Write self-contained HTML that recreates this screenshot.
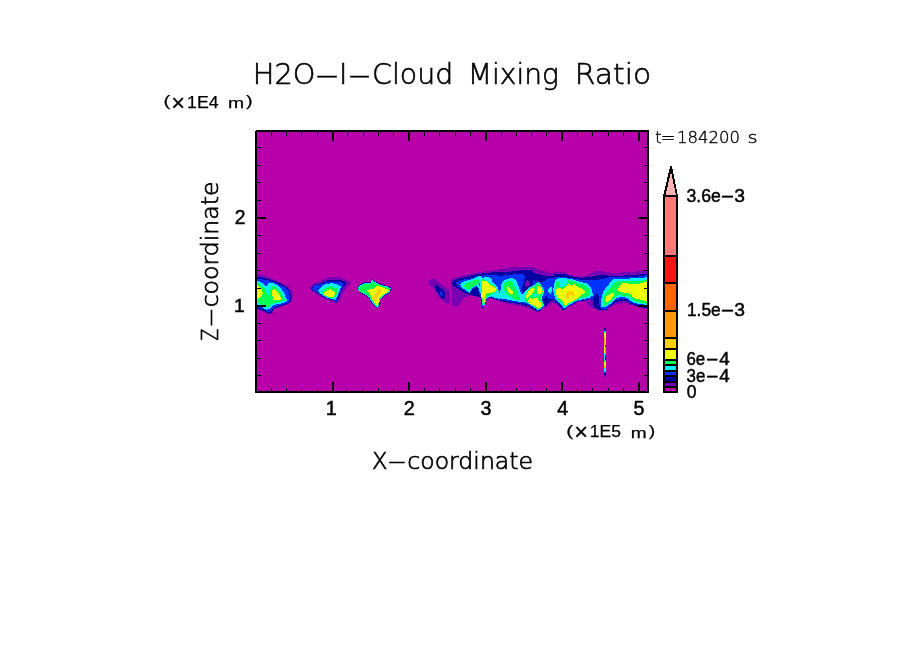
<!DOCTYPE html>
<html lang="en">
<head>
<meta charset="utf-8">
<title>H2O-I-Cloud Mixing Ratio</title>
<style>
html,body{margin:0;padding:0;background:#fff;}
body{width:904px;height:654px;overflow:hidden;}
svg{display:block;}
text{fill:#000;}
.thin{font-family:"DejaVu Sans Light","DejaVu Sans","Liberation Sans",sans-serif;font-weight:200;}
.reg{font-family:"Liberation Sans","DejaVu Sans",sans-serif;font-weight:400;}
.bold{font-family:"Liberation Sans","DejaVu Sans",sans-serif;font-weight:700;}
</style>
</head>
<body>
<svg width="904" height="654" viewBox="0 0 904 654">
<rect x="0" y="0" width="904" height="654" fill="#fff"/>
<!-- plot frame -->
<rect x="255" y="130" width="394" height="263" fill="#000"/>
<rect x="255" y="130" width="1" height="1" fill="#fff"/>
<rect x="257" y="132" width="390" height="259" fill="#b800aa"/>
<g shape-rendering="crispEdges">
<g>
<polygon fill="#7800b4" points="257.1,273.8 262.4,275.1 269.2,277.2 275.9,280.2 282.6,283.1 287.7,286.0 291.0,289.4 292.7,292.8 292.7,298.7 291.5,302.0 287.7,304.6 283.5,306.2 278.4,307.9 274.2,309.6 272.1,313.8 268.3,314.7 264.9,312.6 261.6,311.3 257.1,310.0"/>
<polygon fill="#0000a0" points="257.1,276.8 262.4,277.6 269.2,279.3 275.9,281.4 281.8,284.4 286.8,287.3 289.4,290.3 290.2,293.6 291.5,298.7 290.2,301.6 286.8,303.7 282.6,305.4 277.6,307.1 273.8,308.8 271.7,312.6 268.3,313.4 264.9,311.3 261.6,310.0 257.1,308.8"/>
<polygon fill="#0032ff" points="257.1,278.9 262.4,279.3 269.2,280.6 275.0,282.3 280.9,285.2 286.0,288.1 288.5,291.1 289.4,295.3 290.2,299.5 287.7,302.5 283.5,304.1 278.4,305.8 273.8,307.5 271.3,311.3 267.9,312.1 264.9,310.0 261.6,308.8 257.1,307.1"/>
<polygon fill="#00f0ff" points="257.1,281.0 259.9,281.8 263.3,283.9 266.6,286.5 268.7,283.1 273.8,283.1 278.4,286.0 281.8,289.4 283.9,292.8 285.6,297.4 287.2,299.9 285.1,302.0 281.8,303.3 277.6,304.1 273.4,305.4 270.0,308.8 266.6,309.6 263.3,307.9 259.9,306.2 257.1,305.4"/>
<polygon fill="#00ff50" points="257.1,282.3 260.7,285.2 264.1,287.7 266.6,291.9 267.5,294.5 269.6,294.5 270.4,289.4 271.7,286.0 275.0,286.5 278.4,289.4 280.9,292.8 283.0,297.0 285.6,299.9 283.5,301.2 279.3,302.0 275.0,302.9 271.3,304.1 268.7,306.7 265.8,307.1 262.4,304.6 259.1,303.3 257.1,303.7"/>
<polygon fill="#f0ff00" points="257.1,285.2 259.9,286.9 262.0,289.4 262.8,292.8 262.0,295.3 259.9,297.4 257.1,299.1"/>
<polygon fill="#f0ff00" points="272.9,289.0 275.0,289.4 277.6,291.9 279.7,295.3 280.9,297.8 280.9,299.5 273.4,299.9 272.1,294.5 272.1,290.3"/>
</g>
<g>
<polygon fill="#7800b4" points="310.1,287.7 313.4,283.3 320.6,281.1 327.8,277.7 332.8,276.6 341.1,277.7 345.5,279.4 349.9,281.1 349.4,285.5 346.0,288.8 342.7,293.8 340.5,299.3 337.7,303.7 335.0,303.0 329.4,300.8 323.9,298.5 317.8,295.2 312.3,291.6"/>
<polygon fill="#0000a0" points="311.2,288.3 314.5,284.9 320.6,283.3 328.3,280.0 340.5,280.0 345.5,281.6 346.6,284.4 343.3,287.7 340.5,293.2 338.3,298.8 336.6,302.1 333.9,301.0 328.9,299.0 323.9,297.1 318.4,293.8 313.4,290.8"/>
<polygon fill="#0032ff" points="311.7,288.3 315.1,285.5 320.6,284.4 327.8,281.6 339.4,281.6 343.3,283.3 342.7,286.6 340.0,292.1 337.7,297.7 336.1,301.5 333.3,299.9 328.9,298.5 323.9,296.5 318.4,293.2 314.0,290.5"/>
<polygon fill="#00f0ff" points="318.4,290.5 321.7,286.6 326.1,283.8 332.8,283.3 338.3,284.9 341.1,286.6 339.4,291.0 337.2,296.5 335.0,299.9 331.7,299.0 327.2,297.7 322.3,294.9 318.9,292.7"/>
<polygon fill="#00ff50" points="322.3,292.1 324.5,288.8 329.4,286.0 333.3,287.7 336.6,288.3 338.3,290.5 336.1,296.0 333.3,298.2 328.9,297.4 324.5,295.7 322.8,293.8"/>
<polygon fill="#f0ff00" points="323.9,292.7 326.7,290.5 330.0,288.8 332.2,291.0 334.4,291.6 335.0,293.8 333.3,297.1 329.4,297.1 325.6,295.7 323.9,294.3"/>
<polygon fill="#0000a0" points="356.9,288.3 359.1,285.3 363.7,282.5 370.4,281.9 372.6,279.2 375.0,281.4 381.4,284.2 389.4,286.4 391.6,288.3 390.0,292.9 385.0,295.7 380.5,299.5 379.4,305.6 377.6,308.9 375.1,306.7 371.3,302.3 368.5,297.9 364.6,295.1 359.1,292.3"/>
<polygon fill="#00f0ff" points="357.8,288.3 359.9,285.7 364.1,283.3 370.4,282.7 372.6,280.3 374.8,282.2 381.4,284.9 389.0,287.1 390.8,288.6 389.4,292.5 384.5,295.0 380.1,299.0 379.0,305.2 377.5,307.8 375.5,306.1 371.7,301.6 368.9,297.3 365.1,294.3 359.5,291.9"/>
<polygon fill="#00ff50" points="358.4,288.3 360.4,286.3 364.3,284.0 370.4,283.5 372.6,281.3 374.8,282.9 381.4,285.7 388.6,287.9 390.1,288.9 388.8,292.0 384.2,294.4 379.8,298.4 378.7,304.6 377.3,306.8 375.8,305.3 372.1,301.0 369.4,296.8 365.5,293.8 360.0,291.5"/>
<polygon fill="#f0ff00" points="367.1,290.5 370.4,288.8 373.7,289.4 375.9,286.0 380.3,286.6 384.8,288.3 389.2,289.9 388.1,292.1 383.6,294.1 379.2,298.2 378.3,304.3 377.2,306.0 375.9,304.3 372.6,300.4 370.9,296.0 369.3,292.7"/>
<polygon fill="#ffd000" points="377.0,288.8 380.3,288.3 381.4,291.0 380.3,293.8 377.6,297.1 376.5,300.4 374.8,301.0 373.1,298.8 374.2,294.9 376.5,292.1"/>
</g>
<clipPath id="w2"><rect x="420" y="132" width="31" height="259"/></clipPath>
<g clip-path="url(#w2)">
<polygon fill="#7800b4" points="428.3,281.9 430.5,279.1 435.5,279.1 439.4,283.0 444.9,286.9 448.8,290.8 450.4,296.3 449.9,302.9 446.5,303.5 442.1,300.7 437.7,295.2 433.3,289.1 429.4,284.7"/>
<polygon fill="#0000a0" points="434.9,285.8 436.6,284.7 441.0,288.0 444.3,291.3 445.4,295.7 443.8,299.1 441.0,297.4 438.3,293.5 436.0,289.7"/>
<polygon fill="#0032ff" points="439.9,292.4 441.6,290.8 443.2,294.1 442.1,295.7 440.5,295.2"/>
</g>
<clipPath id="w3"><rect x="450.5" y="132" width="49.5" height="259"/></clipPath>
<g clip-path="url(#w3)">
<polygon fill="#7800b4" points="450.5,289.4 450.5,282.2 452.3,278.7 457.8,276.9 464.6,275.1 471.5,273.7 475.7,272.9 481.2,272.1 486.7,271.2 492.2,270.3 496.3,269.8 501.1,268.9 504.0,268.8 505.9,268.8 505.9,302.8 504.0,302.8 499.1,301.1 493.6,299.7 490.8,298.3 488.0,299.0 486.0,301.8 485.3,304.5 483.9,307.3 482.5,309.4 481.5,307.3 480.8,303.2 480.1,298.3 478.4,297.3 476.3,296.6 472.9,296.3 468.8,295.6 464.6,297.3 461.9,300.4 458.8,305.6 452.3,305.6 452.3,292.2"/>
<polygon fill="#0000a0" points="451.9,282.9 454.0,280.1 459.1,278.3 467.4,276.5 474.3,274.8 476.3,274.1 482.5,273.4 488.0,272.9 492.2,272.3 496.3,272.1 504.0,271.8 505.9,271.8 505.9,302.1 504.0,302.1 499.1,300.4 493.6,299.0 490.8,297.7 488.0,298.3 485.8,301.1 485.2,303.9 483.9,306.6 482.7,308.7 481.9,306.9 481.2,303.2 480.5,298.0 478.4,296.6 474.3,295.7 471.5,295.2 467.4,294.2 463.3,292.2 457.8,288.7 453.6,286.0"/>
<polygon fill="#0032ff" points="455.7,283.2 457.8,281.3 464.0,279.4 471.5,278.3 474.3,277.4 476.3,276.3 478.4,276.0 482.5,275.6 486.7,275.1 492.2,274.6 497.0,274.6 499.7,276.3 504.0,277.4 505.9,277.4 505.9,301.1 504.0,301.1 499.1,299.7 493.6,298.3 490.8,297.1 488.0,297.7 485.6,300.4 484.9,303.5 483.8,305.9 482.9,307.6 482.2,306.3 481.6,302.5 481.0,297.7 479.8,295.6 478.4,292.2 477.7,288.7 476.3,287.3 474.3,288.0 472.2,289.7 470.5,292.5 469.5,293.2 466.7,291.8 461.9,289.1 457.8,286.1"/>
<polygon fill="#00f0ff" points="460.2,284.2 462.0,282.4 466.7,280.5 472.9,279.2 476.0,277.4 478.1,276.9 479.0,276.0 480.8,276.3 481.7,277.8 486.7,277.0 490.8,277.8 492.0,279.8 492.2,282.2 494.9,284.2 497.3,286.6 498.4,289.4 499.1,292.8 501.1,294.2 504.0,294.9 505.9,294.9 505.9,300.4 504.0,300.4 499.1,298.9 493.6,297.3 491.5,296.3 488.7,297.0 486.3,299.7 485.3,303.2 484.3,305.2 483.1,306.9 482.4,305.2 481.9,301.8 481.3,297.0 480.8,293.5 479.8,291.5 478.8,288.7 477.7,286.6 476.3,286.3 474.3,286.6 472.2,288.4 470.5,291.1 469.5,292.5 467.4,291.1 464.0,289.1 461.2,286.6"/>
<polygon fill="#00f0ff" points="501.8,280.8 504.0,280.5 505.9,280.5 505.9,289.4 504.0,289.1 501.8,288.7 501.1,285.3"/>
<polygon fill="#0032ff" points="478.8,283.5 479.8,283.2 479.9,285.6 479.0,286.0"/>
<polygon fill="#00ff50" points="464.0,285.3 465.3,283.5 468.8,282.2 473.6,280.8 476.3,279.1 478.4,279.4 478.8,282.5 477.7,284.6 475.0,285.3 472.9,286.6 471.2,288.7 469.5,289.7 466.7,289.1 464.6,287.3"/>
<polygon fill="#00ff50" points="481.5,279.8 482.5,279.4 486.7,280.8 490.8,283.9 494.9,286.6 497.0,289.1 496.3,291.5 493.6,293.2 490.1,294.9 488.0,296.3 486.3,298.3 485.3,301.8 484.3,304.2 483.2,305.6 482.5,303.2 481.9,299.0 481.2,294.9 481.5,289.4 481.7,283.9"/>
<polygon fill="#f0ff00" points="482.2,280.5 485.3,280.5 488.7,283.2 492.2,286.0 495.6,288.0 496.6,289.4 495.6,291.1 492.2,292.5 488.0,293.2 486.7,293.5 486.0,296.3 484.6,298.3 484.9,301.1 483.9,303.5 483.2,301.8 482.9,298.3 481.5,297.0 481.2,294.9 481.9,289.4 482.2,283.9"/>
<polygon fill="#f0ff00" points="480.8,278.0 482.2,278.0 482.2,279.2 480.8,279.2"/>
<polygon fill="#ffd000" points="489.1,286.0 489.9,286.0 489.9,287.7 489.1,287.7"/>
<polygon fill="#ffd000" points="485.2,293.2 485.8,293.2 485.8,296.3 485.2,296.3"/>
<polygon fill="#00ff50" points="503.2,284.6 505.9,284.2 505.9,286.3 503.2,286.1"/>
</g>
<clipPath id="w4"><rect x="500" y="132" width="54" height="259"/></clipPath>
<g clip-path="url(#w4)">
<polygon fill="#7800b4" points="494.3,270.4 496.0,270.0 501.1,269.2 506.1,267.9 512.8,267.1 521.3,266.6 529.7,266.6 534.7,267.2 537.2,269.2 541.5,270.4 546.5,272.1 549.9,273.4 553.2,272.5 556.0,271.9 558.3,271.9 558.3,302.4 556.0,302.2 553.2,302.4 550.7,304.1 547.3,306.2 544.0,307.9 541.0,310.8 538.1,312.5 535.6,311.2 529.7,309.1 521.3,306.6 512.8,304.9 504.4,303.2 496.0,301.1 494.3,300.7"/>
<polygon fill="#0000a0" points="494.3,272.3 496.0,272.1 504.4,272.5 512.8,271.3 519.6,270.4 525.5,270.0 531.4,270.4 533.9,272.8 538.1,274.0 543.1,275.2 548.2,276.1 556.0,276.1 558.3,276.1 558.3,299.0 556.0,299.0 552.4,299.9 549.0,302.4 546.5,304.9 543.1,307.0 539.8,310.4 537.2,311.7 533.0,309.1 528.0,306.2 521.3,304.5 512.8,303.2 504.4,301.6 496.0,299.9 494.3,299.5"/>
<polygon fill="#7800b4" points="525.0,282.2 527.6,280.1 530.1,282.2 529.2,285.1 526.7,287.3 525.3,285.6"/>
<polygon fill="#0032ff" points="494.3,274.6 496.0,274.6 499.4,277.0 504.4,275.5 512.8,274.5 520.4,274.0 524.2,274.6 525.0,277.2 524.2,280.5 522.8,284.7 522.1,288.9 522.9,292.3 524.2,294.0 526.3,290.6 529.7,287.3 533.0,284.3 534.0,278.8 535.6,281.8 537.2,280.1 538.5,282.2 541.5,282.6 543.1,281.8 546.5,278.8 550.7,277.6 556.0,277.6 558.3,277.6 558.3,299.0 553.2,299.0 549.9,299.5 547.3,297.4 546.1,295.2 544.8,297.4 543.1,299.0 542.3,300.7 543.6,303.2 544.8,305.8 541.5,309.1 537.7,311.0 534.7,308.7 529.7,305.8 525.5,303.7 521.3,303.2 512.8,302.0 504.4,300.3 496.0,298.6 494.3,298.2"/>
<polygon fill="#00f0ff" points="494.3,295.7 496.0,295.2 498.5,293.1 500.6,289.8 501.1,284.7 502.7,281.4 506.1,279.3 511.2,278.0 514.5,278.8 516.6,281.4 518.3,285.6 520.0,290.6 521.3,293.6 522.9,294.4 525.0,291.5 528.0,288.5 531.4,286.0 534.7,284.7 537.2,282.6 538.9,282.2 540.2,283.9 542.1,286.4 543.6,288.9 544.1,292.3 542.7,295.7 541.5,298.2 542.7,301.6 544.0,305.4 541.0,308.3 537.7,310.1 535.1,307.9 530.5,304.9 526.3,302.4 521.3,302.0 512.8,300.7 504.4,299.0 496.0,297.8 494.3,297.4"/>
<polygon fill="#00f0ff" points="548.2,289.8 550.7,286.4 552.2,287.3 552.0,290.6 550.7,293.6 548.6,293.1"/>
<polygon fill="#00f0ff" points="554.1,282.2 556.0,280.1 558.3,280.1 558.3,298.6 556.0,298.6 554.5,295.7 553.2,291.5 553.7,286.4"/>
<polygon fill="#00ff50" points="503.2,285.6 504.4,282.6 507.8,280.9 512.0,281.8 514.1,284.7 516.2,288.9 518.1,294.0 520.0,298.2 518.7,300.3 515.4,299.5 511.2,297.4 506.9,294.8 504.4,290.6"/>
<polygon fill="#00ff50" points="524.2,298.6 525.5,294.8 527.6,290.6 530.5,287.7 533.9,286.4 537.2,283.9 538.9,283.5 541.0,286.0 542.7,288.9 543.3,292.3 541.9,295.7 540.6,298.2 541.9,301.6 543.1,304.9 540.6,307.9 537.7,309.6 535.1,307.5 531.4,304.5 528.0,302.4 525.5,301.1"/>
<polygon fill="#00ff50" points="554.9,291.5 556.0,290.6 558.3,290.6 558.3,297.4 556.0,297.4 555.3,295.7"/>
<polygon fill="#f0ff00" points="506.9,288.1 508.2,286.8 510.7,288.9 512.8,291.5 513.3,293.6 510.7,294.0 508.6,292.3 506.9,290.2"/>
<polygon fill="#f0ff00" points="525.9,297.4 526.7,294.0 528.8,290.6 531.4,288.5 533.9,288.1 534.9,289.4 533.5,292.3 531.4,294.8 529.2,296.5 527.6,298.6"/>
<polygon fill="#f0ff00" points="537.1,288.1 538.1,286.4 540.2,286.8 542.1,288.9 542.7,291.9 541.0,294.0 538.9,294.8 537.4,293.1 536.8,290.6"/>
<polygon fill="#f0ff00" points="528.0,300.3 529.7,298.2 533.0,299.0 536.0,297.8 537.7,297.4 538.5,299.9 541.0,302.4 542.3,304.5 540.2,307.5 537.7,308.7 535.6,306.2 532.2,304.5 529.2,303.2 528.0,302.0"/>
<polygon fill="#00f0ff" points="533.0,294.4 535.6,293.1 537.2,294.8 536.0,297.4 533.9,296.9"/>
</g>
<clipPath id="w5"><rect x="554" y="132" width="54" height="259"/></clipPath>
<g clip-path="url(#w5)">
<polygon fill="#7800b4" points="548.3,272.9 550.0,272.9 554.2,272.1 560.1,271.9 565.2,272.5 569.4,274.6 575.3,275.9 581.1,276.5 586.2,275.5 590.4,273.8 593.8,271.7 597.1,270.8 602.2,271.3 607.2,272.5 610.0,272.5 612.3,272.5 612.3,310.0 610.0,310.0 604.7,311.2 600.5,311.2 597.1,310.0 593.8,308.7 590.4,306.6 587.9,304.1 585.4,302.4 582.0,301.6 577.8,302.4 573.6,304.5 568.5,307.5 564.7,310.0 562.6,311.7 561.4,309.1 558.4,305.8 554.2,303.7 550.0,305.8 548.3,305.8"/>
<polygon fill="#0000a0" points="548.3,275.5 550.0,275.5 553.4,274.6 556.7,274.0 565.2,274.2 569.4,275.6 575.3,277.2 581.1,277.8 587.0,277.3 592.1,276.5 597.1,275.5 602.2,274.6 607.2,274.6 612.3,274.6 612.3,309.1 610.0,309.1 604.7,310.4 600.5,310.4 597.1,309.1 593.8,307.0 592.9,303.2 592.5,300.3 589.6,299.0 586.2,300.3 582.0,300.7 577.8,301.6 573.6,303.7 568.5,306.6 565.2,309.1 563.0,310.4 561.8,308.3 558.4,304.5 554.2,301.6 550.0,301.6 548.3,301.6"/>
<polygon fill="#0032ff" points="548.3,278.0 550.0,278.0 554.2,278.4 555.9,277.2 559.3,276.5 565.2,276.7 569.4,277.8 575.3,279.0 581.1,279.7 587.0,279.5 592.1,279.8 597.1,280.4 602.2,278.8 607.2,277.8 612.3,277.6 612.3,307.9 610.0,307.9 607.2,309.1 603.9,309.6 600.5,307.9 599.2,304.1 598.8,297.4 597.6,293.6 595.9,293.6 593.8,297.4 592.5,299.9 589.6,298.6 586.2,299.7 582.0,300.3 577.8,300.9 573.6,303.1 568.5,305.9 565.2,308.3 563.3,309.1 562.2,307.0 558.8,303.7 554.6,300.3 550.0,298.2 548.3,298.2"/>
<polygon fill="#00f0ff" points="553.8,290.6 554.2,283.9 555.1,280.1 558.4,278.0 565.2,278.2 569.4,278.8 575.3,280.1 581.1,282.2 587.0,283.2 590.0,286.0 592.1,290.6 592.9,295.2 590.4,297.4 587.0,298.2 582.0,299.5 577.8,300.3 573.6,302.4 568.5,305.4 565.6,307.5 563.5,308.1 562.5,306.2 559.3,302.8 555.9,299.9 554.2,295.7"/>
<polygon fill="#00f0ff" points="548.3,286.4 550.0,286.4 552.1,287.3 552.5,290.6 551.3,293.6 550.0,294.0 548.3,294.0"/>
<polygon fill="#00f0ff" points="600.5,305.8 601.3,299.0 603.0,291.5 606.4,287.3 610.0,283.9 612.3,283.0 612.3,304.1 610.0,304.1 608.1,305.8 604.7,307.0 601.8,307.0"/>
<polygon fill="#00ff50" points="555.5,290.6 556.3,282.2 558.4,280.9 559.7,283.0 560.1,286.8 563.5,287.3 566.4,283.9 568.1,279.7 571.0,280.9 575.3,281.5 579.5,283.5 584.5,285.1 587.9,287.3 589.6,290.6 590.4,294.4 587.0,296.5 582.0,298.2 577.8,299.0 573.6,301.1 568.5,304.1 565.6,306.2 563.9,306.2 562.6,303.2 559.3,301.1 556.7,298.2"/>
<polygon fill="#00ff50" points="602.6,304.9 603.0,299.9 604.7,294.8 607.2,291.5 610.0,288.9 612.3,288.1 612.3,301.6 610.0,302.4 607.2,304.1 604.7,305.8"/>
<polygon fill="#f0ff00" points="555.7,293.1 556.1,289.8 557.2,287.3 559.3,288.1 562.6,288.9 565.6,287.3 568.1,284.3 569.8,283.9 571.5,286.0 574.4,284.3 577.8,287.3 581.1,288.1 584.5,290.6 584.9,292.7 582.4,294.4 579.0,297.4 575.3,299.5 571.0,302.0 566.8,304.5 564.3,304.9 563.0,301.6 560.1,299.0 557.2,297.4"/>
<polygon fill="#f0ff00" points="605.1,300.7 606.0,296.5 608.1,294.0 612.3,292.3 612.3,299.9 610.0,301.6 607.2,302.0"/>
<polygon fill="#ffd000" points="566.4,293.6 568.1,291.5 571.0,291.0 574.0,292.7 574.8,296.5 572.7,296.1 570.6,295.2 568.9,296.5 568.7,298.6 566.4,298.6"/>
</g>
<clipPath id="w6"><rect x="608" y="132" width="39" height="259"/></clipPath>
<g clip-path="url(#w6)">
<polygon fill="#7800b4" points="598.3,271.1 600.0,271.1 605.1,272.1 612.6,272.8 621.0,272.5 629.5,272.1 637.9,271.3 643.8,270.4 647.1,270.2 650.5,270.2 650.5,309.6 647.1,309.6 643.8,308.7 637.9,307.0 633.7,305.8 629.5,304.5 625.3,303.2 619.4,303.7 614.3,304.9 610.1,307.5 606.7,310.0 603.4,311.2 600.0,310.8 598.3,310.8"/>
<polygon fill="#0000a0" points="598.3,274.6 600.0,274.6 605.1,275.3 612.6,275.9 621.0,275.6 629.5,275.3 637.9,274.6 643.8,273.8 647.1,273.6 650.5,273.6 650.5,308.3 647.1,308.3 643.8,307.9 637.9,306.6 633.7,304.9 629.5,303.2 626.9,301.1 623.6,300.3 619.4,301.1 615.2,302.4 610.9,305.8 606.7,308.7 603.4,310.1 600.0,309.6 598.3,309.6"/>
<polygon fill="#0032ff" points="598.3,276.7 600.0,276.7 605.1,278.0 608.4,277.6 612.6,277.2 621.0,277.0 629.5,276.8 637.9,276.5 643.8,275.5 647.1,275.3 650.5,275.3 650.5,307.0 647.1,307.0 643.8,306.2 637.9,305.4 633.7,303.7 629.5,302.0 626.9,299.5 623.6,299.0 619.4,299.5 615.6,300.3 611.8,304.1 607.6,307.5 604.2,308.7 600.0,307.9 598.3,307.9"/>
<polygon fill="#00f0ff" points="598.3,305.8 600.0,304.1 601.3,299.9 603.4,291.5 606.7,287.3 610.1,282.2 612.6,279.7 615.2,278.8 621.0,278.7 629.5,278.5 637.9,278.4 643.8,277.6 647.1,277.4 650.5,277.4 650.5,305.4 647.1,305.4 643.8,304.5 637.9,303.7 633.7,302.4 630.3,300.7 627.8,297.8 623.6,297.4 619.4,297.4 616.0,298.2 612.6,302.0 608.4,305.4 605.1,307.0 600.0,307.0 598.3,307.0"/>
<polygon fill="#00ff50" points="598.3,304.1 600.0,303.7 602.5,299.0 603.8,294.4 607.6,290.6 610.9,287.3 613.5,283.9 616.0,281.8 621.0,280.9 629.5,281.2 637.9,281.2 643.8,280.1 647.1,279.7 650.5,279.7 650.5,304.1 647.1,304.1 643.8,303.2 637.9,302.2 633.7,300.7 630.7,298.2 628.2,296.1 623.6,295.7 618.5,295.2 615.6,296.5 612.6,299.9 608.4,303.2 605.1,304.9 601.7,305.4"/>
<polygon fill="#f0ff00" points="605.1,301.6 605.5,297.8 607.6,295.2 610.9,293.6 613.9,293.1 613.9,295.2 611.8,298.2 609.3,301.1 606.7,302.0"/>
<polygon fill="#f0ff00" points="617.3,289.8 619.4,286.4 622.3,283.5 627.8,283.2 629.5,284.1 637.9,284.1 643.8,282.2 647.1,281.8 650.5,281.8 650.5,301.6 647.1,301.6 643.8,300.3 639.6,299.5 635.4,298.6 632.8,296.9 631.1,294.8 628.6,293.1 624.4,292.7 620.2,291.9 617.7,291.0"/>
</g>
<g>
<polygon fill="#0000a0" points="603.8,327.5 606.3,327.5 606.3,330.7 603.8,330.7"/>
<polygon fill="#00f0ff" points="603.8,330.7 606.3,330.7 606.3,331.9 603.8,331.9"/>
<polygon fill="#00ff50" points="603.8,331.9 606.3,331.9 606.3,333.0 603.8,333.0"/>
<polygon fill="#f0ff00" points="603.8,333.0 606.3,333.0 606.3,338.1 603.8,338.1"/>
<polygon fill="#ff9b00" points="603.8,338.1 605.2,338.1 605.2,345.9 603.8,345.9"/>
<polygon fill="#f0ff00" points="605.2,338.1 606.3,338.1 606.3,345.4 605.2,345.4"/>
<polygon fill="#0032ff" points="605.0,345.4 606.3,345.4 606.3,347.0 605.0,347.0"/>
<polygon fill="#f0ff00" points="603.8,345.9 605.0,345.9 605.0,353.2 603.8,353.2"/>
<polygon fill="#00ff50" points="605.0,347.0 606.3,347.0 606.3,353.2 605.0,353.2"/>
<polygon fill="#00f0ff" points="603.8,353.2 606.3,353.2 606.3,355.2 603.8,355.2"/>
<polygon fill="#00f0ff" points="603.8,355.2 605.0,355.2 605.0,359.6 603.8,359.6"/>
<polygon fill="#0000a0" points="605.0,355.2 606.3,355.2 606.3,359.6 605.0,359.6"/>
<polygon fill="#00ff50" points="603.8,359.6 606.3,359.6 606.3,362.4 603.8,362.4"/>
<polygon fill="#f0ff00" points="603.8,362.4 606.3,362.4 606.3,365.1 603.8,365.1"/>
<polygon fill="#ffd000" points="603.8,365.1 606.3,365.1 606.3,367.9 603.8,367.9"/>
<polygon fill="#00f0ff" points="603.8,367.9 606.3,367.9 606.3,371.5 603.8,371.5"/>
<polygon fill="#0032ff" points="603.8,371.5 606.3,371.5 606.3,373.2 603.8,373.2"/>
<polygon fill="#0000a0" points="603.8,373.2 606.3,373.2 606.3,375.0 603.8,375.0"/>
<polygon fill="#7800b4" points="603.8,375.0 606.3,375.0 606.3,376.6 603.8,376.6"/>
</g>
</g>
<g shape-rendering="crispEdges">
<rect x="584" y="379" width="1" height="1" fill="#6a00b8"/>
<rect x="271" y="388" width="1" height="3" fill="#000"/>
<rect x="271" y="132" width="1" height="4" fill="#000"/>
<rect x="286" y="388" width="1" height="3" fill="#000"/>
<rect x="286" y="132" width="1" height="4" fill="#000"/>
<rect x="301" y="388" width="1" height="3" fill="#000"/>
<rect x="301" y="132" width="1" height="4" fill="#000"/>
<rect x="317" y="388" width="1" height="3" fill="#000"/>
<rect x="317" y="132" width="1" height="4" fill="#000"/>
<rect x="332" y="382" width="2" height="9" fill="#000"/>
<rect x="332" y="132" width="2" height="9" fill="#000"/>
<rect x="347" y="388" width="1" height="3" fill="#000"/>
<rect x="347" y="132" width="1" height="4" fill="#000"/>
<rect x="363" y="388" width="1" height="3" fill="#000"/>
<rect x="363" y="132" width="1" height="4" fill="#000"/>
<rect x="378" y="388" width="1" height="3" fill="#000"/>
<rect x="378" y="132" width="1" height="4" fill="#000"/>
<rect x="393" y="388" width="1" height="3" fill="#000"/>
<rect x="393" y="132" width="1" height="4" fill="#000"/>
<rect x="408" y="382" width="2" height="9" fill="#000"/>
<rect x="408" y="132" width="2" height="9" fill="#000"/>
<rect x="424" y="388" width="1" height="3" fill="#000"/>
<rect x="424" y="132" width="1" height="4" fill="#000"/>
<rect x="439" y="388" width="1" height="3" fill="#000"/>
<rect x="439" y="132" width="1" height="4" fill="#000"/>
<rect x="455" y="388" width="1" height="3" fill="#000"/>
<rect x="455" y="132" width="1" height="4" fill="#000"/>
<rect x="470" y="388" width="1" height="3" fill="#000"/>
<rect x="470" y="132" width="1" height="4" fill="#000"/>
<rect x="485" y="382" width="2" height="9" fill="#000"/>
<rect x="485" y="132" width="2" height="9" fill="#000"/>
<rect x="501" y="388" width="1" height="3" fill="#000"/>
<rect x="501" y="132" width="1" height="4" fill="#000"/>
<rect x="516" y="388" width="1" height="3" fill="#000"/>
<rect x="516" y="132" width="1" height="4" fill="#000"/>
<rect x="531" y="388" width="1" height="3" fill="#000"/>
<rect x="531" y="132" width="1" height="4" fill="#000"/>
<rect x="546" y="388" width="1" height="3" fill="#000"/>
<rect x="546" y="132" width="1" height="4" fill="#000"/>
<rect x="561" y="382" width="2" height="9" fill="#000"/>
<rect x="561" y="132" width="2" height="9" fill="#000"/>
<rect x="577" y="388" width="1" height="3" fill="#000"/>
<rect x="577" y="132" width="1" height="4" fill="#000"/>
<rect x="592" y="388" width="1" height="3" fill="#000"/>
<rect x="592" y="132" width="1" height="4" fill="#000"/>
<rect x="608" y="388" width="1" height="3" fill="#000"/>
<rect x="608" y="132" width="1" height="4" fill="#000"/>
<rect x="623" y="388" width="1" height="3" fill="#000"/>
<rect x="623" y="132" width="1" height="4" fill="#000"/>
<rect x="638" y="382" width="2" height="9" fill="#000"/>
<rect x="638" y="132" width="2" height="9" fill="#000"/>
<rect x="257" y="375" width="4" height="1" fill="#000"/>
<rect x="644" y="375" width="3" height="1" fill="#000"/>
<rect x="257" y="358" width="4" height="1" fill="#000"/>
<rect x="644" y="358" width="3" height="1" fill="#000"/>
<rect x="257" y="340" width="4" height="1" fill="#000"/>
<rect x="644" y="340" width="3" height="1" fill="#000"/>
<rect x="257" y="323" width="4" height="1" fill="#000"/>
<rect x="644" y="323" width="3" height="1" fill="#000"/>
<rect x="257" y="305" width="9" height="2" fill="#000"/>
<rect x="638" y="305" width="9" height="2" fill="#000"/>
<rect x="257" y="288" width="4" height="1" fill="#000"/>
<rect x="644" y="288" width="3" height="1" fill="#000"/>
<rect x="257" y="270" width="4" height="1" fill="#000"/>
<rect x="644" y="270" width="3" height="1" fill="#000"/>
<rect x="257" y="253" width="4" height="1" fill="#000"/>
<rect x="644" y="253" width="3" height="1" fill="#000"/>
<rect x="257" y="235" width="4" height="1" fill="#000"/>
<rect x="644" y="235" width="3" height="1" fill="#000"/>
<rect x="257" y="217" width="9" height="2" fill="#000"/>
<rect x="638" y="217" width="9" height="2" fill="#000"/>
<rect x="257" y="200" width="4" height="1" fill="#000"/>
<rect x="644" y="200" width="3" height="1" fill="#000"/>
<rect x="257" y="182" width="4" height="1" fill="#000"/>
<rect x="644" y="182" width="3" height="1" fill="#000"/>
<rect x="257" y="165" width="4" height="1" fill="#000"/>
<rect x="644" y="165" width="3" height="1" fill="#000"/>
<rect x="257" y="147" width="4" height="1" fill="#000"/>
<rect x="644" y="147" width="3" height="1" fill="#000"/>
</g>
<g shape-rendering="crispEdges">
<rect x="663" y="195" width="15" height="198" fill="#000"/>
<rect x="665" y="388" width="11" height="3" fill="#b800aa"/>
<rect x="665" y="383" width="11" height="3" fill="#7800b4"/>
<rect x="665" y="377" width="11" height="4" fill="#0000a0"/>
<rect x="665" y="372" width="11" height="3" fill="#0032ff"/>
<rect x="665" y="366" width="11" height="4" fill="#00f0ff"/>
<rect x="665" y="361" width="11" height="3" fill="#00ff50"/>
<rect x="665" y="350" width="11" height="9" fill="#f0ff00"/>
<rect x="665" y="339" width="11" height="9" fill="#ffd000"/>
<rect x="665" y="312" width="11" height="25" fill="#ff9b00"/>
<rect x="665" y="284" width="11" height="26" fill="#ff6400"/>
<rect x="665" y="257" width="11" height="25" fill="#fa1414"/>
<rect x="665" y="197" width="11" height="58" fill="#ff7878"/>
<polygon points="663,196.5 670.2,166 672,166 678,196.5" fill="#000"/>
<polygon points="665.5,195 671,172 676,195" fill="#ffb4b4"/>
</g>
<text class="thin" stroke="#000" stroke-width="0.6"><tspan x="252.73" y="84.3" font-size="28.36" textLength="62.73" lengthAdjust="spacingAndGlyphs">H2O</tspan><tspan x="314.57" y="84.3" font-size="28.36" textLength="25.05" lengthAdjust="spacingAndGlyphs">-</tspan><tspan x="339.03" y="84.3" font-size="28.36">I</tspan><tspan x="347.5" y="84.3" font-size="28.36" textLength="24" lengthAdjust="spacingAndGlyphs">-</tspan><tspan x="372.06" y="84.3" font-size="28.36" textLength="81.18" lengthAdjust="spacingAndGlyphs">Cloud</tspan> <tspan x="467.72" y="84.3" font-size="28.36" textLength="91.23" lengthAdjust="spacingAndGlyphs">Mixing</tspan> <tspan x="574.87" y="84.3" font-size="28.36" textLength="76.36" lengthAdjust="spacingAndGlyphs">Ratio</tspan></text>
<text class="thin" stroke="#000" stroke-width="0.7"><tspan x="371.99" y="468.55" font-size="23.29" textLength="15.51" lengthAdjust="spacingAndGlyphs">X</tspan><tspan x="387.31" y="468.55" font-size="23.29" textLength="19.34" lengthAdjust="spacingAndGlyphs">-</tspan><tspan x="407.22" y="468.55" font-size="23.29" textLength="125.87" lengthAdjust="spacingAndGlyphs">coordinate</tspan></text>
<text class="thin" stroke="#000" stroke-width="0.7" transform="rotate(-90)"><tspan x="-340.61" y="218.35" font-size="23.42" textLength="11.71" lengthAdjust="spacingAndGlyphs">Z</tspan><tspan x="-327.28" y="218.35" font-size="23.42" textLength="19.36" lengthAdjust="spacingAndGlyphs">-</tspan><tspan x="-307.38" y="218.35" font-size="23.42" textLength="125.77" lengthAdjust="spacingAndGlyphs">coordinate</tspan></text>
<text class="reg" stroke="#000" stroke-width="0.25"><tspan x="163.49" y="106.35" font-size="15.37" textLength="6.86" lengthAdjust="spacingAndGlyphs">(</tspan><tspan x="171.37" y="110.73" font-size="23.2" textLength="13.78" lengthAdjust="spacingAndGlyphs">×</tspan><tspan x="187.04" y="108.17" font-size="17.18" textLength="31.52" lengthAdjust="spacingAndGlyphs">1E4</tspan> <tspan x="228.04" y="108.17" font-size="15.46" textLength="16.05" lengthAdjust="spacingAndGlyphs">m</tspan><tspan x="245.99" y="106.35" font-size="15.37" textLength="6.63" lengthAdjust="spacingAndGlyphs">)</tspan></text>
<text class="reg" stroke="#000" stroke-width="0.25"><tspan x="566.37" y="435.75" font-size="15.37" textLength="7" lengthAdjust="spacingAndGlyphs">(</tspan><tspan x="574.37" y="440.13" font-size="23.2" textLength="13.78" lengthAdjust="spacingAndGlyphs">×</tspan><tspan x="589.86" y="437.4" font-size="17.07" textLength="31.11" lengthAdjust="spacingAndGlyphs">1E5</tspan> <tspan x="630.85" y="437.57" font-size="15.46" textLength="15.9" lengthAdjust="spacingAndGlyphs">m</tspan><tspan x="648.68" y="435.75" font-size="15.37" textLength="6.46" lengthAdjust="spacingAndGlyphs">)</tspan></text>
<text class="thin" stroke="#000" stroke-width="0.4"><tspan x="655.26" y="142.6" font-size="16.44" textLength="6.24" lengthAdjust="spacingAndGlyphs">t</tspan><tspan x="660.66" y="142.6" font-size="16.44" textLength="14.69" lengthAdjust="spacingAndGlyphs">=</tspan><tspan x="677.11" y="142.6" font-size="16.44" textLength="62.96" lengthAdjust="spacingAndGlyphs">184200</tspan> <tspan x="747.58" y="142.6" font-size="16.44" textLength="10.13" lengthAdjust="spacingAndGlyphs">s</tspan></text>
<text class="reg" stroke="#000" stroke-width="0.5"><tspan x="325.8" y="414.75" font-size="19.71">1</tspan></text>
<text class="reg" stroke="#000" stroke-width="0.5"><tspan x="403.73" y="414.75" font-size="19.71">2</tspan></text>
<text class="reg" stroke="#000" stroke-width="0.5"><tspan x="480.42" y="414.75" font-size="19.71">3</tspan></text>
<text class="reg" stroke="#000" stroke-width="0.5"><tspan x="557.19" y="414.75" font-size="19.71">4</tspan></text>
<text class="reg" stroke="#000" stroke-width="0.5"><tspan x="633.45" y="414.75" font-size="19.71">5</tspan></text>
<text class="reg" stroke="#000" stroke-width="0.5"><tspan x="234.1" y="311.55" font-size="19.28">1</tspan></text>
<text class="reg" stroke="#000" stroke-width="0.5"><tspan x="234.72" y="223.75" font-size="19.29">2</tspan></text>
<text class="reg" stroke="#000" stroke-width="0.45"><tspan x="686.48" y="201.6" font-size="17.82" textLength="34.35" lengthAdjust="spacingAndGlyphs">3.6e</tspan><tspan x="720.59" y="201.6" font-size="17.82" textLength="13.95" lengthAdjust="spacingAndGlyphs">-</tspan><tspan x="734.15" y="201.6" font-size="17.82" textLength="10.71" lengthAdjust="spacingAndGlyphs">3</tspan></text>
<text class="reg" stroke="#000" stroke-width="0.45"><tspan x="686.97" y="315.99" font-size="18.21" textLength="33.79" lengthAdjust="spacingAndGlyphs">1.5e</tspan><tspan x="720.58" y="315.99" font-size="18.21" textLength="13.96" lengthAdjust="spacingAndGlyphs">-</tspan><tspan x="734.15" y="315.99" font-size="18.21" textLength="10.75" lengthAdjust="spacingAndGlyphs">3</tspan></text>
<text class="reg" stroke="#000" stroke-width="0.45"><tspan x="686.47" y="365.1" font-size="17.54" textLength="18.81" lengthAdjust="spacingAndGlyphs">6e</tspan><tspan x="705.82" y="365.1" font-size="17.54" textLength="13.05" lengthAdjust="spacingAndGlyphs">-</tspan><tspan x="719.18" y="365.1" font-size="17.54" textLength="10.43" lengthAdjust="spacingAndGlyphs">4</tspan></text>
<text class="reg" stroke="#000" stroke-width="0.45"><tspan x="686.52" y="381.8" font-size="17.96" textLength="18.79" lengthAdjust="spacingAndGlyphs">3e</tspan><tspan x="705.81" y="381.8" font-size="17.96" textLength="13.18" lengthAdjust="spacingAndGlyphs">-</tspan><tspan x="719.18" y="381.8" font-size="17.96" textLength="10.42" lengthAdjust="spacingAndGlyphs">4</tspan></text>
<text class="reg" stroke="#000" stroke-width="0.45"><tspan x="686.71" y="397.8" font-size="17.96" textLength="9.78" lengthAdjust="spacingAndGlyphs">0</tspan></text>
</svg>
</body>
</html>
